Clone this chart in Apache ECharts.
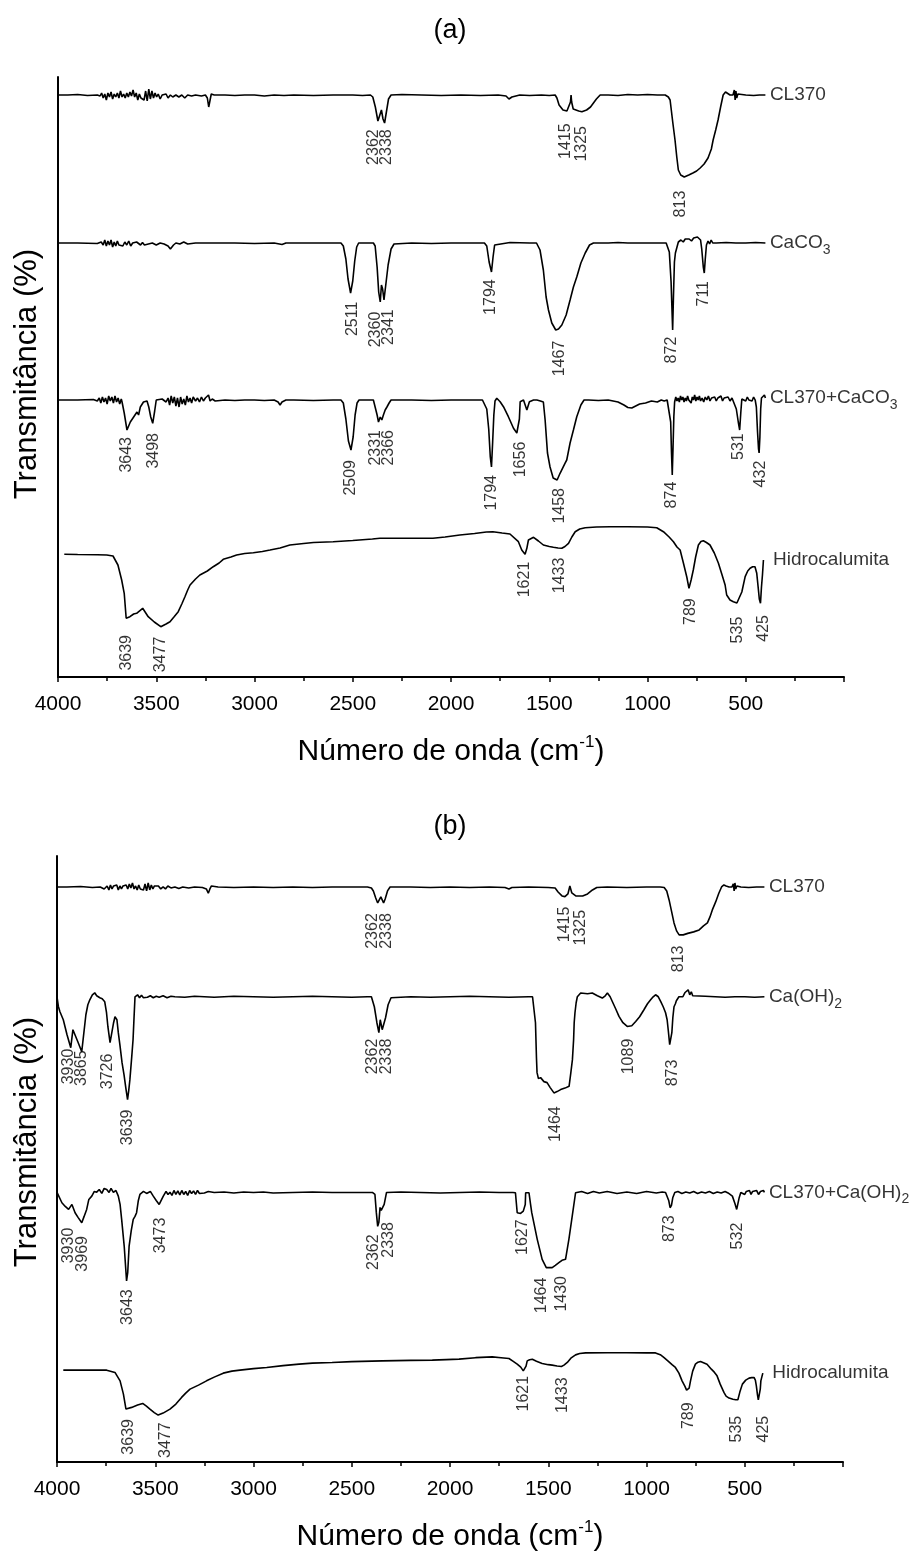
<!DOCTYPE html>
<html><head><meta charset="utf-8">
<script src="https://cdn.jsdelivr.net/npm/echarts/dist/echarts.min.js"></script>
<style>html,body{margin:0;padding:0;background:#fff}#c{width:918px;height:1553px}</style>
</head><body><div id="c"></div>
<script>
// ---------------- DATA (wavenumber cm-1, transmittance in arbitrary offset units) ----------------
const namesA = ['CL370', 'CaCO3', 'CL370+CaCO3', 'Hidrocalumita'];
const namesB = ['CL370', 'Ca(OH)2', 'CL370+Ca(OH)2', 'Hidrocalumita'];
const xTickStep = 500;

const cl370A = [[4000,582],[3950,582],[3900,582.5],[3850,581.5],[3800,582],[3786,581],[3778,584],[3770,579],[3762,583],[3754,577],[3746,584],[3738,580],[3730,585],[3722,578],[3714,583],[3706,580],[3698,584],[3690,579],[3682,586],[3674,580],[3666,583],[3658,579],[3650,584],[3642,580],[3634,585],[3626,581],[3618,587],[3610,580],[3602,584],[3594,577],[3586,583],[3578,579],[3570,581],[3562,577],[3554,586],[3546,576],[3538,588],[3530,578],[3522,586],[3514,579],[3506,584],[3498,580],[3490,583],[3480,578],[3470,582],[3460,580],[3450,583],[3440,579],[3428,582],[3416,580],[3400,582],[3385,580],[3370,582],[3355,579],[3340,582],[3320,581],[3300,582],[3270,581],[3250,582],[3240,579],[3233,570],[3226,577],[3220,583],[3205,582],[3150,582],[3100,581.5],[3050,582],[3000,582],[2950,581],[2900,582],[2850,581.5],[2800,582],[2700,581.5],[2600,582],[2500,582],[2450,581.5],[2410,582],[2398,580],[2385,570],[2372,556],[2362,554],[2354,567],[2346,558],[2338,554],[2328,566],[2318,578],[2305,582],[2250,582.5],[2150,582],[2050,581.5],[1950,582],[1850,581.5],[1760,582],[1720,581],[1705,578],[1690,580],[1650,582],[1600,581.5],[1540,582],[1500,581.5],[1470,582],[1461,579],[1450,572],[1430,567],[1410,566],[1400,568],[1392,575],[1389,582],[1386,575],[1378,568],[1368,566.7],[1350,566],[1334,565.3],[1310,567],[1290,570],[1275,574],[1260,578],[1241,582],[1200,582],[1150,581.5],[1100,582.5],[1050,582],[1000,582.5],[950,582],[910,582],[894,580],[885,577],[871,554],[860,537],[851,520],[843,507],[831,502],[813,500],[790,502],[769,504],[750,506],[732,509],[712,513],[692,519],[675,528],[666,537],[653,547],[641,557],[628,570],[615,582],[603,585],[595,584],[580,582],[565,582],[558,587],[554,577],[550,586],[546,579],[540,583],[530,582],[500,582],[460,581.5],[430,582],[400,582]];

const caco3A = [[4000,434],[3900,434],[3800,433.5],[3780,435],[3770,432],[3762,437],[3754,431],[3746,436],[3738,432],[3730,437],[3722,430],[3714,435],[3706,431],[3698,436],[3690,432],[3680,434],[3670,431],[3660,435],[3650,432],[3640,436],[3630,431],[3620,434],[3610,432],[3600,435],[3590,433],[3580,432],[3570,434.5],[3560,432],[3550,434],[3540,433],[3520,434],[3500,432],[3480,434],[3460,433],[3440,431],[3428,428],[3420,426],[3412,432],[3400,434],[3380,433],[3360,435],[3340,433],[3300,434],[3200,434],[3100,434],[3000,433.5],[2900,434],[2860,432.5],[2840,434],[2700,434],[2600,434],[2560,434],[2548,431],[2535,418],[2524,398],[2511,384],[2500,396],[2490,416],[2480,430],[2470,434],[2420,434],[2395,434],[2386,431],[2376,410],[2368,385],[2360,375],[2354,392],[2348,388],[2341,377],[2332,392],[2320,412],[2305,428],[2290,433],[2280,434],[2200,434],[2100,433.5],[2000,434],[1900,434],[1830,434],[1818,431],[1806,415],[1794,405],[1786,420],[1778,432],[1768,434],[1700,434.5],[1600,434],[1565,434],[1560,433],[1547,427],[1530,407],[1516,380],[1504,367],[1487,354],[1467,347],[1453,348],[1436,352],[1414,362],[1394,377],[1377,390],[1360,400],[1339,414],[1317,424],[1295,432],[1275,434],[1200,434],[1150,434.5],[1100,434],[1090,435.3],[1080,434],[1000,434],[950,434],[905,434],[896,433],[889,425],[880,395],[872,347],[868,380],[863,415],[858,424],[850,426],[843,435],[830,437],[818,435],[808,438],[798,436],[788,438],[776,436],[765,439],[755,437],[746,440],[738,438],[730,437],[724,428],[716,410],[711,404],[706,418],[700,432],[692,436],[684,433],[676,437],[668,434],[650,434],[600,434.5],[550,434],[500,434],[450,434.5],[400,434]];

const clCaco3A = [[4000,277],[3900,277],[3820,277.5],[3800,276],[3790,279],[3782,274],[3774,280],[3766,275],[3758,279],[3750,273],[3742,281],[3734,276],[3726,280],[3718,274],[3710,281],[3702,275],[3694,279],[3686,273],[3678,278],[3674,275],[3663,264],[3649,247],[3643,248],[3632,255],[3615,260],[3605,258],[3598,265],[3590,262],[3581,270],[3572,268],[3565,275],[3556,273],[3547,276],[3538,270],[3528,260],[3518,253.7],[3508,266],[3500,277],[3490,276],[3470,278],[3450,275],[3440,279],[3432,272],[3424,281],[3416,274],[3408,280],[3400,271],[3392,279],[3384,270],[3376,280],[3368,273],[3360,278],[3352,272],[3344,281],[3336,275],[3328,279],[3320,274],[3312,280],[3300,276],[3290,279],[3280,275],[3270,280],[3260,276],[3250,279],[3240,281],[3234,282],[3226,276],[3215,278],[3200,276],[3150,277],[3100,276.5],[3050,277],[3000,277],[2950,276.5],[2900,277],[2880,275],[2870,272],[2860,275],[2840,277],[2800,277],[2700,276.5],[2600,277],[2560,277],[2548,274],[2535,258],[2522,236],[2509,227],[2498,240],[2488,262],[2478,274],[2468,277],[2420,277],[2395,277],[2386,275],[2376,262],[2369,255],[2360,260],[2352,257],[2344,262],[2335,267],[2326,270],[2315,274],[2305,277],[2200,277],[2100,276.5],[2000,277],[1900,277],[1840,277],[1830,276],[1818,268],[1808,248],[1800,220],[1794,210],[1788,235],[1782,262],[1776,276],[1767,278.7],[1750,275.3],[1733,270.3],[1708,260.3],[1682,248.7],[1665,244],[1656,244],[1652,258],[1648,275.3],[1631,277],[1614,267],[1601,275.3],[1580,277],[1563,277],[1545,276],[1530,275],[1521,257],[1509,224],[1496,210],[1480,199],[1460,197],[1445,203.7],[1420,213.7],[1411,217],[1394,234],[1377,247],[1360,260.3],[1339,272],[1323,277],[1300,277],[1250,276.5],[1200,277],[1150,275],[1120,272],[1100,269.5],[1080,269],[1060,271],[1040,273],[1010,274],[980,276],[950,275],[930,277],[915,276],[900,277],[890,275],[882,255],[878,225],[874,202],[870,230],[866,260],[862,275],[856,280],[850,276],[844,279],[838,275],[832,281],[826,277],[820,280],[814,275],[808,279],[802,276],[796,281],[790,277],[784,279],[778,274],[772,280],[766,277],[760,282],[754,276],[748,280],[742,277],[736,281],[730,276],[722,279],[714,275],[706,280],[698,277],[690,281],[682,276],[674,279],[666,277],[658,280],[650,276],[642,279],[634,277],[626,281],[618,276],[610,279],[600,277],[590,280],[580,276],[570,279],[560,278],[548,268],[538,255],[531,247],[525,265],[520,278],[510,279],[500,276],[492,280],[484,277],[476,279],[468,276],[460,280],[452,277],[446,270],[440,245],[435,228],[432,224],[428,240],[424,268],[420,279],[415,277],[410,280],[405,282],[400,279]];

const hidroA = [[3968,122.7],[3900,122.5],[3800,122.3],[3752,122],[3720,121],[3710,119.3],[3695,112],[3676,97],[3663,83.7],[3653,58.7],[3634,60.3],[3615,63],[3600,63.7],[3569,68.7],[3541,60.3],[3510,55],[3477,50.3],[3450,53],[3430,55.3],[3410,60],[3388,65.3],[3370,73],[3354,80.3],[3340,87],[3328,92],[3300,98],[3278,102],[3240,106],[3210,110.3],[3180,114],[3159,117.7],[3120,120],[3091,122],[3050,123.5],[3006,124.3],[2960,125.5],[2921,127],[2870,129],[2820,132],[2750,133.5],[2700,134.5],[2600,135.3],[2500,136.5],[2400,138],[2362,138.7],[2200,138.7],[2092,138.7],[2030,140],[1955,142],[1880,143.5],[1820,145],[1787,145.3],[1740,144],[1700,143],[1657,135.3],[1640,127],[1623,122.7],[1614,128.7],[1606,137],[1580,139.7],[1555,136],[1530,132],[1500,130.5],[1479,129.7],[1455,129],[1436,128.7],[1420,130.5],[1402,133.7],[1385,140],[1368,145.3],[1345,148],[1317,149.3],[1260,150],[1190,150.3],[1100,150.2],[1000,150],[953,149.3],[919,145.3],[890,140],[868,135.3],[850,130],[834,127],[817,113.7],[800,100],[789,88.7],[778,97],[767,107],[755,120],[741,132],[728,135.5],[716,136.3],[700,134.5],[682,132],[660,124],[639,113.7],[622,103],[605,92],[597,82],[580,77],[563,75.3],[545,74],[535,73],[520,85],[503,100.3],[490,106],[478,108.7],[465,110.3],[453,110.3],[444,103.7],[437,90],[431,78],[425,73.7],[420,90],[415,102],[410,117]];

const cl370B = [[4000,576],[3950,576],[3880,576.5],[3820,575.5],[3780,576],[3760,574],[3745,577],[3736,573],[3728,578],[3720,574],[3712,577],[3704,575],[3696,578],[3688,573],[3680,577],[3672,574],[3664,577],[3656,575],[3648,578],[3640,574],[3632,579],[3624,575],[3616,580],[3608,574],[3600,577],[3592,573],[3584,578],[3576,574],[3568,576],[3560,573],[3552,579],[3544,572],[3536,580],[3528,573],[3520,578],[3512,574],[3504,577],[3494,575],[3484,577],[3472,574],[3460,576],[3448,574],[3436,577],[3420,575],[3400,576],[3380,574.5],[3360,576],[3330,575],[3300,576],[3260,575.5],[3240,574],[3230,569.7],[3222,574],[3214,577],[3180,576],[3100,575.5],[3000,576],[2900,575.5],[2800,576],[2700,575.5],[2600,576],[2500,576],[2420,576],[2400,575],[2390,572],[2378,565],[2368,560],[2362,560],[2352,566],[2345,563],[2338,560],[2330,564],[2318,572],[2305,576],[2200,576],[2100,575.5],[2000,576],[1900,575.5],[1800,576],[1720,575.5],[1700,574],[1685,575.5],[1600,576],[1500,575.5],[1465,575],[1450,571],[1430,567],[1415,566.3],[1400,569],[1390,577],[1380,570],[1360,567],[1325,567],[1300,569],[1275,573],[1253,575.5],[1200,576],[1100,575.5],[1000,576],[930,576],[910,575.5],[897,572],[885,563],[873,552],[860,540],[847,532],[834,528],[813,528],[790,529.5],[760,531],[732,533],[710,537],[690,540],[677,546],[665,553],[648,561],[632,569.7],[618,576],[606,578],[595,577],[580,576],[565,576],[558,579],[554,572],[550,580],[546,574],[540,577],[520,576],[480,575.5],[440,576],[400,576]];

const caoh2B = [[4000,466],[3993,456.3],[3985,451],[3968,443],[3949,428],[3930,415],[3919,433],[3910,435],[3894,421],[3874,411],[3865,412],[3853,448],[3843,458],[3833,463],[3820,468],[3808,470],[3798,467],[3790,469],[3782,465],[3770,464],[3757,461],[3748,450],[3741,436],[3730,420],[3722,418],[3712,440],[3705,446],[3695,443],[3688,430],[3680,418],[3669,400],[3659,388],[3650,375],[3641,363],[3635,372],[3629,383],[3620,405],[3613,423],[3608,445],[3603,466],[3590,468],[3580,465],[3570,467.5],[3560,465],[3550,467],[3540,465.5],[3525,467],[3510,465],[3495,466.5],[3480,465.5],[3460,467],[3440,465],[3420,466.5],[3400,466],[3350,465.5],[3300,466.5],[3250,466],[3200,465.5],[3150,466],[3100,466.5],[3000,466],[2900,465.5],[2800,466],[2700,466.5],[2600,466],[2500,465.5],[2420,466],[2400,466],[2395,465],[2385,456],[2372,440],[2362,430],[2355,443],[2350,441],[2345,433],[2338,432],[2328,445],[2315,458],[2300,465],[2290,466],[2200,466],[2100,465.5],[2000,466],[1900,466.5],[1800,466],[1700,465.5],[1600,466],[1580,466],[1573,465],[1565,440],[1560,405],[1557,390],[1550,384],[1539,385],[1522,381],[1506,380],[1490,375],[1471,369.7],[1464,369.5],[1455,371],[1437,373],[1415,374.5],[1394,376.3],[1385,390],[1377,403],[1371,423],[1368,440],[1364,450],[1358,460],[1352,466],[1335,469.7],[1300,469],[1276,469.7],[1250,467],[1225,464.7],[1210,467],[1199,469.7],[1185,466],[1174,461.3],[1157,454],[1140,446.3],[1120,440],[1098,436.3],[1089,436],[1075,437],[1055,441.3],[1035,446],[1013,453],[995,459],[979,463],[966,466],[954,468],[940,466],[928,461.3],[915,456],[903,450],[895,443],[889,432],[882,418],[876,416],[871,430],[866,445],[860,456],[853,459],[848,462],[843,463],[835,466],[826,468],[815,466],[805,470],[795,468],[788,473],[780,468],[772,471],[765,467],[755,466],[700,466.5],[650,466],[600,465.5],[550,466],[500,466],[450,465.5],[400,466]];

const clCaoh2B = [[4000,270],[3975,259.7],[3958,256],[3941,253],[3924,258],[3908,249.7],[3893,245],[3874,239.7],[3862,246],[3849,253],[3838,263],[3823,266.3],[3810,271],[3798,270.3],[3785,273],[3772,269],[3760,274],[3747,273],[3735,270],[3725,274],[3713,270],[3700,272],[3688,266.3],[3679,258],[3671,243],[3658,216.3],[3646,181.3],[3640,190],[3633,216.3],[3622,232],[3612,243],[3603,246],[3595,249.7],[3586,262],[3578,268],[3560,271],[3544,269],[3525,271],[3510,266.3],[3495,262],[3480,258],[3470,260],[3459,266.3],[3445,271],[3435,268],[3425,270.3],[3415,267],[3405,272],[3395,268],[3385,271.5],[3375,267.5],[3365,272],[3355,268],[3345,271],[3335,267],[3325,272],[3315,269],[3305,271.5],[3295,268],[3285,272],[3275,269],[3265,271],[3250,269.5],[3230,271],[3200,270],[3150,270.5],[3100,269.5],[3050,270.5],[3000,270],[2950,270.5],[2900,269.5],[2800,270],[2700,270.5],[2600,270],[2500,270],[2420,270],[2395,270],[2382,268],[2375,250],[2368,236],[2362,240],[2356,255],[2350,252],[2343,251.7],[2335,258],[2323,270],[2250,270.5],[2150,270],[2050,269.5],[1950,270],[1850,270.5],[1750,270],[1680,270],[1667,269.7],[1658,249.7],[1641,249],[1627,251.3],[1617,258],[1615,269.7],[1598,269.7],[1590,258],[1584,249.7],[1556,223],[1531,203],[1510,194.7],[1480,194.7],[1464,197],[1446,199.7],[1430,202],[1412,203],[1395,223],[1378,246.3],[1361,269.7],[1330,271],[1300,269],[1270,271],[1240,269.5],[1200,271],[1150,269],[1100,270.5],[1050,269],[1000,271],[950,269.5],[920,270.5],[903,270],[895,271],[887,262],[880,254.7],[873,257],[866,265],[856,270],[840,271],[820,269],[800,270.5],[780,269.5],[760,271],[740,269],[720,270.5],[700,269.5],[680,271],[660,269],[640,270.5],[620,269.5],[600,271],[585,269.5],[575,270],[563,266.3],[550,259],[541,253],[535,255],[528,265],[520,270],[510,272],[500,268],[492,271],[484,269],[476,272],[468,268],[460,271],[450,269],[440,272],[430,268],[420,271],[410,269],[405,272],[400,270]];

const hidroB = [[3968,92],[3900,92],[3800,92],[3747,92],[3705,89.7],[3679,81.3],[3662,68],[3649,53],[3639,53],[3620,54.7],[3590,57],[3564,58.7],[3545,56],[3527,53],[3505,49.5],[3485,47],[3460,49],[3425,53],[3395,58],[3366,64.7],[3345,69],[3323,73],[3280,77],[3239,81.3],[3200,85],[3154,89],[3110,91],[3069,92],[3000,93.5],[2933,94.7],[2850,96.5],[2768,98],[2700,99],[2600,99.7],[2500,100.5],[2345,101.3],[2200,101.8],[2090,102],[2020,102.5],[1954,103],[1870,104.5],[1785,105.3],[1740,104.5],[1700,103.7],[1680,101],[1658,98],[1640,95],[1627,91.3],[1621,91.3],[1613,96],[1607,101.3],[1595,102.5],[1581,103],[1560,101],[1531,98.7],[1500,97.5],[1480,97],[1455,96.2],[1433,95.7],[1420,97],[1403,99.7],[1385,104],[1361,107.3],[1340,108.7],[1310,109.3],[1200,109.5],[1100,109.4],[1000,109.3],[954,109.3],[930,107.5],[912,104.7],[890,101],[870,97.5],[853,94.7],[835,89],[819,81.3],[805,76],[796,72],[789,71.3],[783,74],[776,81.3],[765,91],[751,98],[738,100],[725,100.7],[710,99.5],[692,98],[670,93],[655,90],[641,86.3],[625,78],[606,69.7],[595,66],[580,64],[560,62.8],[546,62.3],[535,62.3],[525,70],[512,78],[495,82],[478,84],[465,84.5],[453,84.7],[446,82],[441,76.3],[435,67],[431,62.3],[425,62.3],[421,73],[418,81.3],[412,86],[408,89]];

// peak annotations: [wavenumber position, level, text]
const peaksA = [[2392,547.7,'2362'],[2326,547.7,'2338'],[1419,553.7,'1415'],[1336,551,'1325'],[834,486.3,'813'],
[2501,375.3,'2511'],[2382,365.3,'2360'],[2318,367.7,'2341'],[1797,397.7,'1794'],[1446,336.3,'1467'],[875,340.3,'872'],[716,396,'711'],
[3649,240,'3643'],[3514,244,'3498'],[2513,217,'2509'],[2382,247,'2331'],[2318,247,'2366'],[1794,202,'1794'],[1648,235.3,'1656'],[1446,189,'1458'],[875,195.3,'874'],[538,243.7,'531'],[427,216.3,'432'],
[3649,42,'3639'],[3478,40.3,'3477'],[1623,115.3,'1621'],[1446,119.3,'1433'],[783,78.7,'789'],[541,60.3,'535'],[407,62,'425']];
const peaksB = [[2392,549.7,'2362'],[2322,549.7,'2338'],[1419,556.3,'1415'],[1336,553,'1325'],[836,517.3,'813'],
[3943,414,'3930'],[3876,412.3,'3865'],[3743,409,'3726'],[3641,353,'3639'],[2392,424,'2362'],[2322,424,'2338'],[1461,356.3,'1464'],[1089,424,'1089'],[868,403,'873'],
[3943,234.7,'3930'],[3870,226.3,'3969'],[3641,173,'3643'],[3474,244.7,'3473'],[2391,228,'2362'],[2310,240.3,'2338'],[1631,243,'1627'],[1533,184.7,'1464'],[1432,186.3,'1430'],[880,247,'873'],[534,239.7,'532'],
[3637,43,'3639'],[3449,39.7,'3477'],[1628,86.3,'1621'],[1428,84.7,'1433'],[785,59.7,'789'],[544,46.3,'535'],[403,46.3,'425']];

// ---------------- CHART ----------------
const FONT = '"Liberation Sans", Arial, Helvetica, sans-serif';
const chart = echarts.init(document.getElementById('c'), null, {renderer: 'canvas'});

function mkX(i) {
  return {
    type: 'value', gridIndex: i, min: 0, max: 4000, interval: xTickStep, inverse: true,
    axisLine: {show: true, onZero: false, lineStyle: {color: '#000', width: 2}},
    axisTick: {show: true, inside: false, length: 5, lineStyle: {color: '#000', width: 1.5}},
    minorTick: {show: true, splitNumber: 2, length: 4, lineStyle: {color: '#000', width: 1.5}},
    splitLine: {show: false}, minorSplitLine: {show: false},
    axisLabel: {margin: 17, fontSize: 21, color: '#000', fontFamily: FONT,
      formatter: v => (v === 0 ? '' : String(v))},
    name: '{a|Número de onda (cm}{s|-1}{a|)}', nameLocation: 'middle', nameGap: 57,
    nameTextStyle: {rich: {
      a: {fontSize: 30, lineHeight: 36, fontFamily: FONT, color: '#000'},
      s: {fontSize: 17, lineHeight: 22, verticalAlign: 'top', fontFamily: FONT, color: '#000'}
    }}
  };
}
function mkY(i, max) {
  return {
    type: 'value', gridIndex: i, min: 0, max: max,
    axisLine: {show: true, onZero: false, lineStyle: {color: '#000', width: 2}},
    axisTick: {show: false}, axisLabel: {show: false}, splitLine: {show: false}
  };
}
function lineSeries(i, data) {
  return {type: 'line', xAxisIndex: i, yAxisIndex: i, data: data, symbol: 'none', showSymbol: false,
    silent: true, lineStyle: {color: '#000', width: 1.6}, z: 2};
}
function nameFmt(n) {
  return n.replace('CO3', 'CO{s|3}').replace(')2', '){s|2}');
}
function nameSeries(i, names, datas) {
  return {type: 'scatter', xAxisIndex: i, yAxisIndex: i, symbolSize: 1, silent: true,
    itemStyle: {color: 'rgba(0,0,0,0)'}, z: 5,
    data: names.map((n, k) => {
      const d = datas[k], last = d[d.length - 1];
      return {value: [last[0], last[1]], name: n,
        label: {show: true, position: 'right', distance: n === 'Hidrocalumita' ? 9 : 4,
          formatter: nameFmt(n), fontSize: 19, lineHeight: 28, color: '#000', fontFamily: FONT,
          rich: {s: {fontSize: 14, lineHeight: 12, verticalAlign: 'bottom', color: '#000', fontFamily: FONT}}}};
    })};
}
function peakSeries(i, peaks) {
  return {type: 'scatter', xAxisIndex: i, yAxisIndex: i, symbolSize: 1, silent: true,
    itemStyle: {color: 'rgba(0,0,0,0)'}, z: 5,
    data: peaks.map(p => ({value: [p[0], p[1]], name: p[2]})),
    label: {show: true, position: 'inside', rotate: 90, align: 'right', verticalAlign: 'middle',
      formatter: '{b}', fontSize: 16, color: '#000', fontFamily: FONT}};
}

const dataA = [cl370A, caco3A, clCaco3A, hidroA];
const dataB = [cl370B, caoh2B, clCaoh2B, hidroB];

const option = {
  animation: false,
  backgroundColor: '#fff',
  grid: [{left: 58, top: 77, width: 786, height: 600}, {left: 57, top: 856, width: 786, height: 607}],
  xAxis: [mkX(0), mkX(1)],
  yAxis: [mkY(0, 600), mkY(1, 607)],
  graphic: [
    {type: 'text', x: 450, y: 31, style: {text: '(a)', fontSize: 27, fontFamily: FONT, fill: '#000', align: 'center', verticalAlign: 'middle'}},
    {type: 'text', x: 450, y: 827, style: {text: '(b)', fontSize: 27, fontFamily: FONT, fill: '#000', align: 'center', verticalAlign: 'middle'}},
    {type: 'text', x: 27, y: 374, rotation: Math.PI / 2, style: {text: 'Transmitância (%)', fontSize: 31, fontFamily: FONT, fill: '#000', align: 'center', verticalAlign: 'middle'}},
    {type: 'text', x: 27, y: 1142, rotation: Math.PI / 2, style: {text: 'Transmitância (%)', fontSize: 31, fontFamily: FONT, fill: '#000', align: 'center', verticalAlign: 'middle'}}
  ],
  series: [
    ...dataA.map(d => lineSeries(0, d)),
    ...dataB.map(d => lineSeries(1, d)),
    peakSeries(0, peaksA), peakSeries(1, peaksB),
    nameSeries(0, namesA, dataA), nameSeries(1, namesB, dataB)
  ]
};
chart.setOption(option);
</script>
</body></html>
